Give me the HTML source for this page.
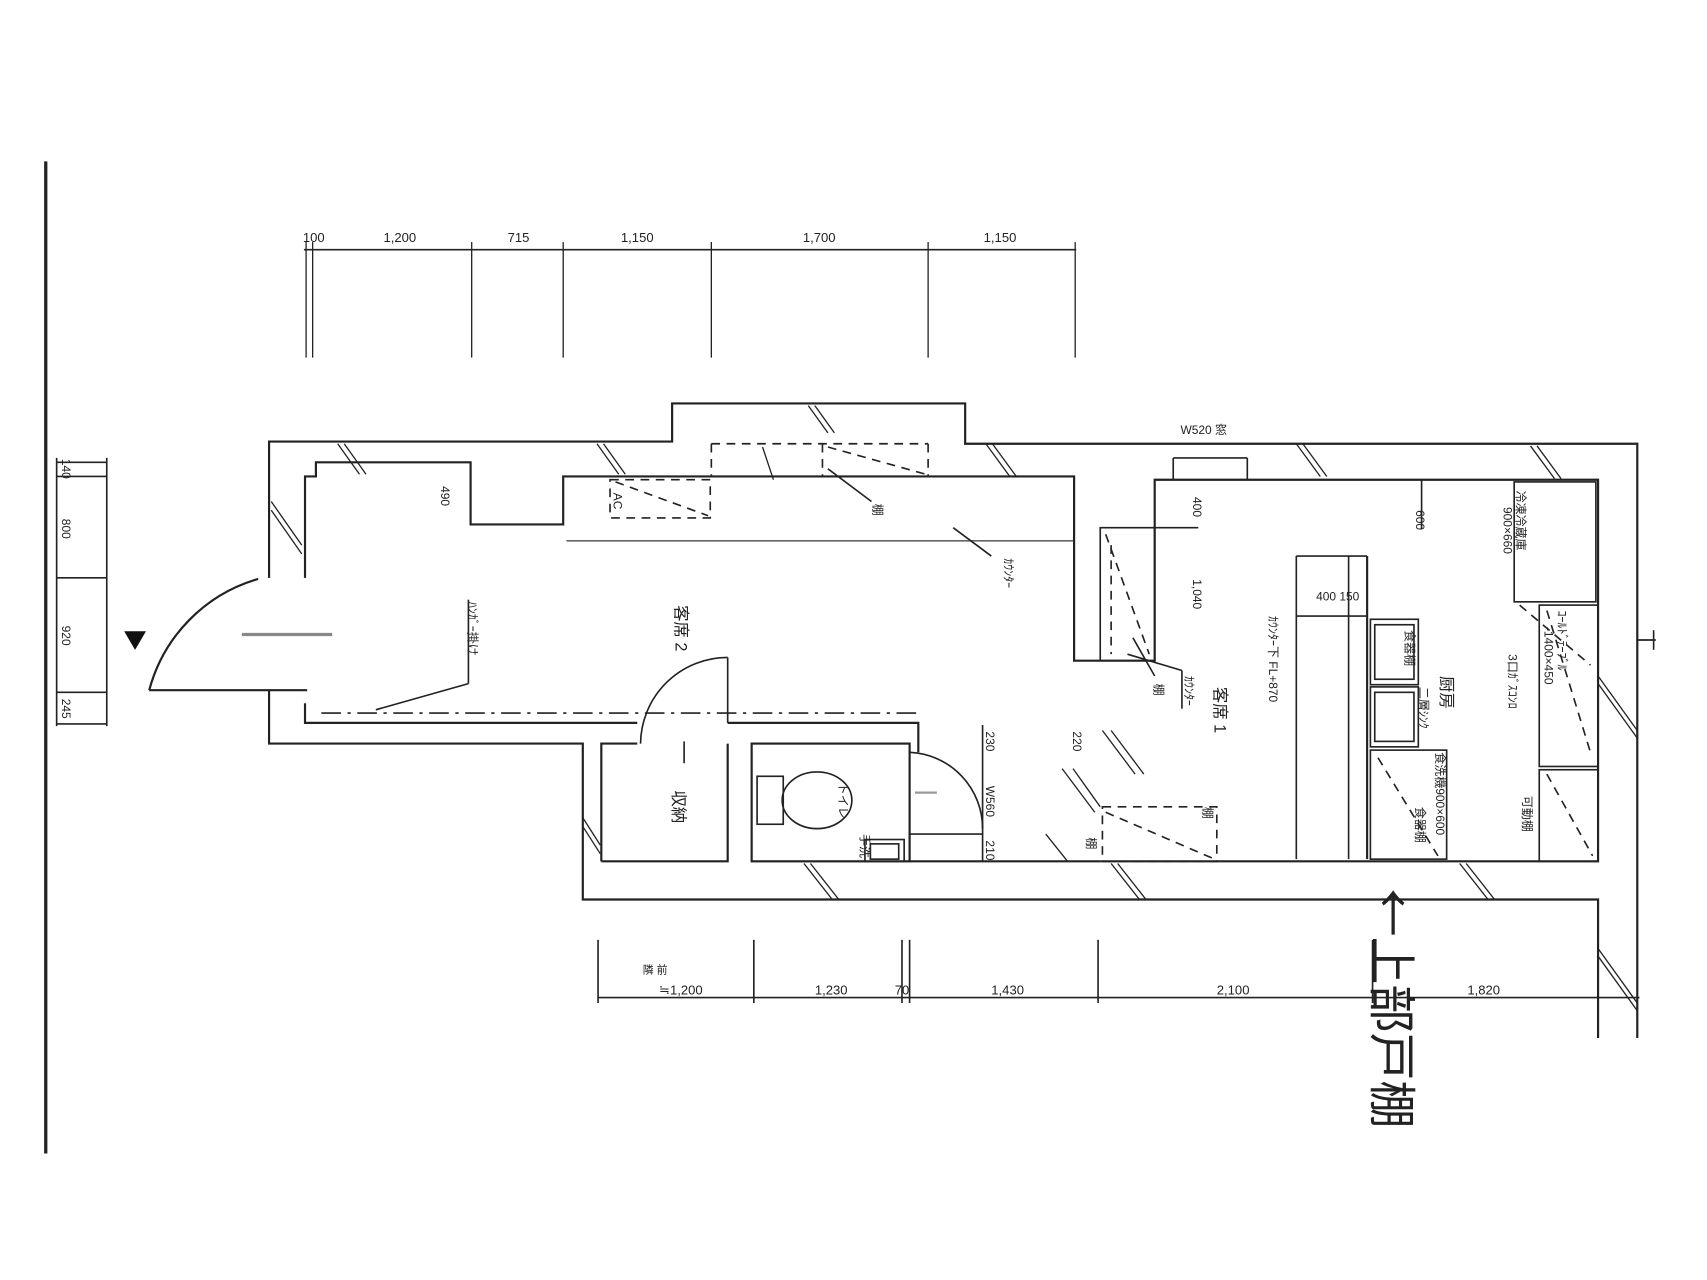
<!DOCTYPE html>
<html><head><meta charset="utf-8"><style>
html,body{margin:0;padding:0;background:#fff;}
svg{display:block;}
text{font-family:"Liberation Sans","Noto Sans CJK JP",sans-serif;fill:#222;}
</style></head><body>
<svg width="1707" height="1280" viewBox="0 0 1567 1174" preserveAspectRatio="none" xmlns="http://www.w3.org/2000/svg">
<rect width="1567" height="1174" fill="#fff"/>
<g stroke="#222" fill="none" stroke-width="1.5">
<line x1="42" y1="148" x2="42" y2="1058" stroke-width="3"/>
<line x1="279" y1="229" x2="988" y2="229"/>
<g stroke-width="1.2">
<line x1="281" y1="222" x2="281" y2="328"/><line x1="287" y1="222" x2="287" y2="328"/>
<line x1="433" y1="222" x2="433" y2="328"/><line x1="517" y1="222" x2="517" y2="328"/>
<line x1="653" y1="222" x2="653" y2="328"/><line x1="852" y1="222" x2="852" y2="328"/>
<line x1="987" y1="222" x2="987" y2="328"/>
</g>
<line x1="98" y1="420" x2="98" y2="666"/>
<line x1="52" y1="420" x2="52" y2="666"/>
<line x1="52" y1="424" x2="98" y2="424"/><line x1="52" y1="437" x2="98" y2="437"/>
<line x1="52" y1="530" x2="98" y2="530"/><line x1="52" y1="635" x2="98" y2="635"/>
<line x1="52" y1="664" x2="98" y2="664"/>
<line x1="549" y1="915" x2="1505" y2="915"/>
<line x1="549" y1="862" x2="549" y2="920"/><line x1="692" y1="862" x2="692" y2="920"/>
<line x1="828" y1="862" x2="828" y2="920"/><line x1="835" y1="862" x2="835" y2="920"/>
<line x1="1008" y1="862" x2="1008" y2="920"/><line x1="1260" y1="862" x2="1260" y2="920"/>
<polyline points="247,530 247,405 617,405 617,370 886,370 886,407 1503,407 1503,952" stroke-width="2"/>
<polyline points="247,633 247,682 535,682 535,825 1467,825 1467,952" stroke-width="2"/>
<line x1="1503" y1="587" x2="1520" y2="587"/><line x1="1518" y1="578" x2="1518" y2="596"/>
<polyline points="280,530 280,437 290,437 290,424 432,424 432,481 517,481 517,437 986,437 986,606 1010,606" stroke-width="2"/>
<polyline points="1010,606 1060,606 1060,440 1467,440 1467,790 1010,790" stroke-width="2"/>
<rect x="1010" y="484" width="50" height="122"/>
<line x1="1077" y1="440" x2="1077" y2="420"/><line x1="1145" y1="440" x2="1145" y2="420"/><line x1="1077" y1="420" x2="1145" y2="420"/>
<line x1="1060" y1="484" x2="1100" y2="484"/>
<polyline points="280,645 280,663 585,663" stroke-width="2"/>
<polyline points="668,663 843,663 843,690" stroke-width="2"/>
<polyline points="552,790 552,682 585,682" stroke-width="2"/>
<polyline points="668,682 668,790 552,790" stroke-width="2"/>
<rect x="690" y="682" width="145" height="108" stroke-width="2"/>
<line x1="835" y1="790" x2="1010" y2="790" stroke-width="2"/>
<line x1="902" y1="665" x2="902" y2="790"/>
<path d="M137,633 A145,145 0 0,1 237,531" stroke-width="2"/>
<line x1="137" y1="633" x2="282" y2="633" stroke-width="2"/>
<line x1="222" y1="582" x2="305" y2="582" stroke="#888" stroke-width="3"/>
<path d="M588,682 A80,80 0 0,1 668,603"/><line x1="668" y1="603" x2="668" y2="663"/>
<line x1="628" y1="680" x2="628" y2="700"/>
<path d="M835,690 A70,70 0 0,1 902,760"/><line x1="835" y1="765" x2="902" y2="765"/>
<line x1="840" y1="727" x2="860" y2="727" stroke="#999" stroke-width="2"/>
<rect x="695" y="712" width="24" height="44"/>
<ellipse cx="750" cy="734" rx="32" ry="26"/>
<rect x="794" y="770" width="36" height="20"/><rect x="799" y="774" width="26" height="14"/>
<line x1="295" y1="654" x2="845" y2="654" stroke-dasharray="18,6,3,6"/>
<line x1="520" y1="496" x2="985" y2="496" stroke="#666"/>
<line x1="1190" y1="788" x2="1190" y2="510"/><line x1="1190" y1="510" x2="1255" y2="510"/>
<line x1="1238" y1="510" x2="1238" y2="788"/>
<line x1="1190" y1="565" x2="1255" y2="565"/>
<line x1="1255" y1="510" x2="1255" y2="788" stroke-width="2"/>
<rect x="1258" y="568" width="44" height="60"/><rect x="1262" y="573" width="36" height="50"/>
<rect x="1258" y="630" width="44" height="55"/><rect x="1262" y="635" width="36" height="45"/>
<rect x="1258" y="688" width="70" height="100"/>
<rect x="1390" y="442" width="75" height="110"/>
<rect x="1413" y="555" width="54" height="148"/>
<rect x="1413" y="706" width="54" height="84"/>
<line x1="1305" y1="440" x2="1305" y2="485"/>
<g stroke-dasharray="8,6">
<rect x="560" y="440" width="92" height="35"/>
<rect x="1012" y="740" width="105" height="50"/>
<line x1="653" y1="407" x2="653" y2="437"/><line x1="653" y1="407" x2="852" y2="407"/>
<line x1="852" y1="407" x2="852" y2="437"/><line x1="755" y1="407" x2="755" y2="437"/>
<line x1="760" y1="410" x2="850" y2="435"/><line x1="565" y1="442" x2="650" y2="473"/>
<line x1="1015" y1="490" x2="1055" y2="600"/><line x1="1020" y1="500" x2="1020" y2="600"/>
<line x1="1015" y1="745" x2="1115" y2="788"/>
<line x1="1395" y1="555" x2="1460" y2="610"/><line x1="1420" y1="710" x2="1462" y2="785"/>
<line x1="1265" y1="695" x2="1320" y2="785"/><line x1="1420" y1="560" x2="1460" y2="690"/>
</g>
<line x1="760" y1="430" x2="800" y2="460"/><line x1="875" y1="484" x2="910" y2="510"/>
<line x1="345" y1="651" x2="430" y2="627"/><line x1="430" y1="627" x2="430" y2="550"/>
<line x1="1035" y1="600" x2="1085" y2="615"/><line x1="1085" y1="615" x2="1085" y2="650"/>
<line x1="1040" y1="585" x2="1060" y2="620"/>
<g stroke-width="1.2">
<path d="M310,407 l20,28 M316,407 l20,28 M548,407 l20,28 M554,407 l20,28 M742,372 l18,25 M748,372 l18,25 M700,410 l10,30 M905,407 l22,30 M911,407 l22,30 M1190,407 l22,30 M1196,407 l22,30 M1405,409 l22,30 M1411,409 l22,30"/>
<path d="M249,460 l28,40 M249,468 l28,40 M535,750 l16,25 M535,758 l16,25 M738,792 l26,33 M744,792 l26,33 M1020,792 l26,33 M1026,792 l26,33 M1340,792 l26,33 M1346,792 l26,33 M1467,620 l36,50 M1467,627 l36,50 M1467,870 l36,50 M1467,877 l36,50"/>
<path d="M1012,670 l30,40 M1020,670 l30,40 M975,705 l30,40 M985,705 l25,35 M960,765 l20,25"/>
</g>
</g>
<polygon points="116,597 133,587 116,577" fill="#111" transform="rotate(90 124 587)"/>
<g font-size="12">
<text x="288" y="222" text-anchor="middle">100</text>
<text x="367" y="222" text-anchor="middle">1,200</text>
<text x="476" y="222" text-anchor="middle">715</text>
<text x="585" y="222" text-anchor="middle">1,150</text>
<text x="752" y="222" text-anchor="middle">1,700</text>
<text x="918" y="222" text-anchor="middle">1,150</text>
<text x="625" y="912" text-anchor="middle">≒1,200</text>
<text x="763" y="912" text-anchor="middle">1,230</text>
<text x="828" y="912" text-anchor="middle">70</text>
<text x="925" y="912" text-anchor="middle">1,430</text>
<text x="1132" y="912" text-anchor="middle">2,100</text>
<text x="1362" y="912" text-anchor="middle">1,820</text>
<text x="1105" y="398" text-anchor="middle" font-size="11">W520 窓</text>
<text x="590" y="893" font-size="10">隣 前</text>
<text x="1228" y="551" text-anchor="middle" font-size="11">400 150</text>
</g>
<g font-size="11">
<text transform="translate(57,430) rotate(90)" text-anchor="middle">140</text>
<text transform="translate(57,485) rotate(90)" text-anchor="middle">800</text>
<text transform="translate(57,583) rotate(90)" text-anchor="middle">920</text>
<text transform="translate(57,650) rotate(90)" text-anchor="middle">245</text>
<text transform="translate(405,455) rotate(90)" text-anchor="middle">490</text>
<text transform="translate(1095,465) rotate(90)" text-anchor="middle">400</text>
<text transform="translate(1095,545) rotate(90)" text-anchor="middle">1,040</text>
<text transform="translate(1300,477) rotate(90)" text-anchor="middle">600</text>
<text transform="translate(905,680) rotate(90)" text-anchor="middle">230</text>
<text transform="translate(985,680) rotate(90)" text-anchor="middle">220</text>
<text transform="translate(905,735) rotate(90)" text-anchor="middle">W560</text>
<text transform="translate(905,780) rotate(90)" text-anchor="middle">210</text>
<text transform="translate(563,452) rotate(90)">AC</text>
<text transform="translate(430,552) rotate(90)">ﾊﾝｶﾞｰ掛け</text>
<text transform="translate(922,512) rotate(90)">ｶｳﾝﾀｰ</text>
<text transform="translate(1088,620) rotate(90)">ｶｳﾝﾀｰ</text>
<text transform="translate(802,462) rotate(90)">棚</text>
<text transform="translate(1060,627) rotate(90)">棚</text>
<text transform="translate(1105,740) rotate(90)">棚</text>
<text transform="translate(998,768) rotate(90)">棚</text>
<text transform="translate(1165,565) rotate(90)">ｶｳﾝﾀｰ下  FL+870</text>
<text transform="translate(1392,450) rotate(90)">冷凍冷蔵庫</text>
<text transform="translate(1380,465) rotate(90)">900×660</text>
<text transform="translate(1430,560) rotate(90)">ｺｰﾙﾄﾞﾃｰﾌﾞﾙ</text>
<text transform="translate(1418,575) rotate(90)">-1400×450</text>
<text transform="translate(1385,600) rotate(90)">3口ｶﾞｽｺﾝﾛ</text>
<text transform="translate(1398,730) rotate(90)">可動棚</text>
<text transform="translate(1303,630) rotate(90)">二層ｼﾝｸ</text>
<text transform="translate(1318,690) rotate(90)">食洗機900×600</text>
<text transform="translate(1290,578) rotate(90)">食器棚</text>
<text transform="translate(1300,740) rotate(90)">食器棚</text>
<text transform="translate(790,765) rotate(90)">手洗</text>
<text transform="translate(770,718) rotate(90)">トイレ</text>
</g>
<g font-size="15">
<text transform="translate(620,555) rotate(90)">客席 2</text>
<text transform="translate(1115,630) rotate(90)">客席 1</text>
<text transform="translate(1323,620) rotate(90)">厨房</text>
<text transform="translate(618,725) rotate(90)">収納</text>
</g>
<text transform="translate(1262,815) rotate(90)" font-size="44" style="font-family:'Noto Sans CJK JP',sans-serif">←上部戸棚</text>
</svg>
</body></html>
